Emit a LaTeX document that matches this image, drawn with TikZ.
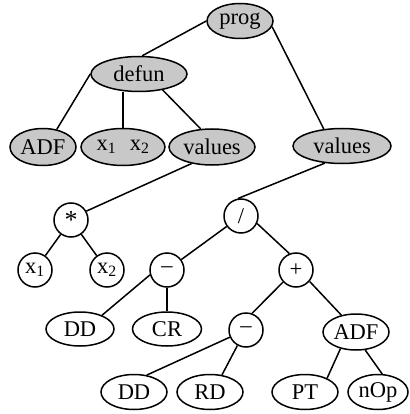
\documentclass[tikz,border=0pt]{standalone}
\usepackage{fontspec}
\setmainfont{Liberation Serif}
\usetikzlibrary{shapes.geometric}
\definecolor{nodegray}{RGB}{200,200,200}
\begin{document}
\begin{tikzpicture}[x=1pt,y=-1pt,
  every node/.style={font=\fontsize{22.5}{26}\selectfont, inner sep=0pt, draw=black, line width=1.5pt},
  ell/.style={ellipse, fill=white},
  gell/.style={ellipse, fill=nodegray},
  circ/.style={circle, minimum size=34pt, fill=white},
  edge/.style={line width=1.5pt}]
\useasboundingbox (0,0) rectangle (409,414);
% nodes
\node[gell, minimum width=66pt, minimum height=35pt] (prog) at (240,21) {prog};
\node[gell, minimum width=96pt, minimum height=35pt] (defun) at (139,74) {defun};
\node[gell, minimum width=66pt, minimum height=37pt] (adf1) at (43,147) {ADF};
\node[gell, minimum width=84pt, minimum height=37pt] (x12) at (123,147) {x\textsubscript{1}\hspace{0.6em}x\textsubscript{2}};
\node[gell, minimum width=86pt, minimum height=36pt] (val1) at (212,147) {values};
\node[gell, minimum width=98pt, minimum height=35pt] (val2) at (342,146) {values};
\node[circ] (mul) at (71,220) {\raisebox{-0.35ex}{\fontsize{26}{28}\selectfont *}};
\node[circ] (x1) at (35,270) {x\textsubscript{1}};
\node[circ] (x2) at (107,270) {x\textsubscript{2}};
\node[circ] (div) at (241,216) {/};
\node[circ] (min1) at (167,270) {–};
\node[circ] (plus) at (296,270) {+};
\node[ell, minimum width=68pt, minimum height=34pt] (dd1) at (80,329) {DD};
\node[ell, minimum width=69pt, minimum height=34pt] (cr) at (167,329) {CR};
\node[circ] (min2) at (246,330) {–};
\node[ell, minimum width=66pt, minimum height=36pt] (adf2) at (356,332) {ADF};
\node[ell, minimum width=66pt, minimum height=35pt] (dd2) at (134,392) {DD};
\node[ell, minimum width=66pt, minimum height=35pt] (rd) at (210,392) {RD};
\node[ell, minimum width=66pt, minimum height=35pt] (pt) at (305,392) {PT};
\node[ell, minimum width=60pt, minimum height=35pt] (nop) at (378,392) {nOp};
% edges
\draw[edge] (defun.80) -- (prog.180);
\draw[edge] (prog.-10) -- (val2.137);
\draw[edge] (defun.180) -- (adf1.52);
\draw[edge] (x12.north) -- (x12.north |- defun.south);
\draw[edge] (defun.-34) -- (val1.122);
\draw[edge] (val1.-141) -- (mul.30);
\draw[edge] (mul) -- (x1);
\draw[edge] (mul) -- (x2);
\draw[edge] (val2.-135) -- (div.100);
\draw[edge] (div) -- (min1);
\draw[edge] (div.-25) -- (plus.112);
\draw[edge] (min1.-164) -- (dd1.32);
\draw[edge] (min1.south) -- (cr.north);
\draw[edge] (plus.-137) -- (min2.70);
\draw[edge] (plus.-40) -- (adf2.131);
\draw[edge] (min2.-156) -- (dd2.53);
\draw[edge] (min2.-119) -- (rd.55);
\draw[edge] (adf2.-133) -- (pt.32);
\draw[edge] (adf2.-63) -- (nop.77);
\end{tikzpicture}
\end{document}
